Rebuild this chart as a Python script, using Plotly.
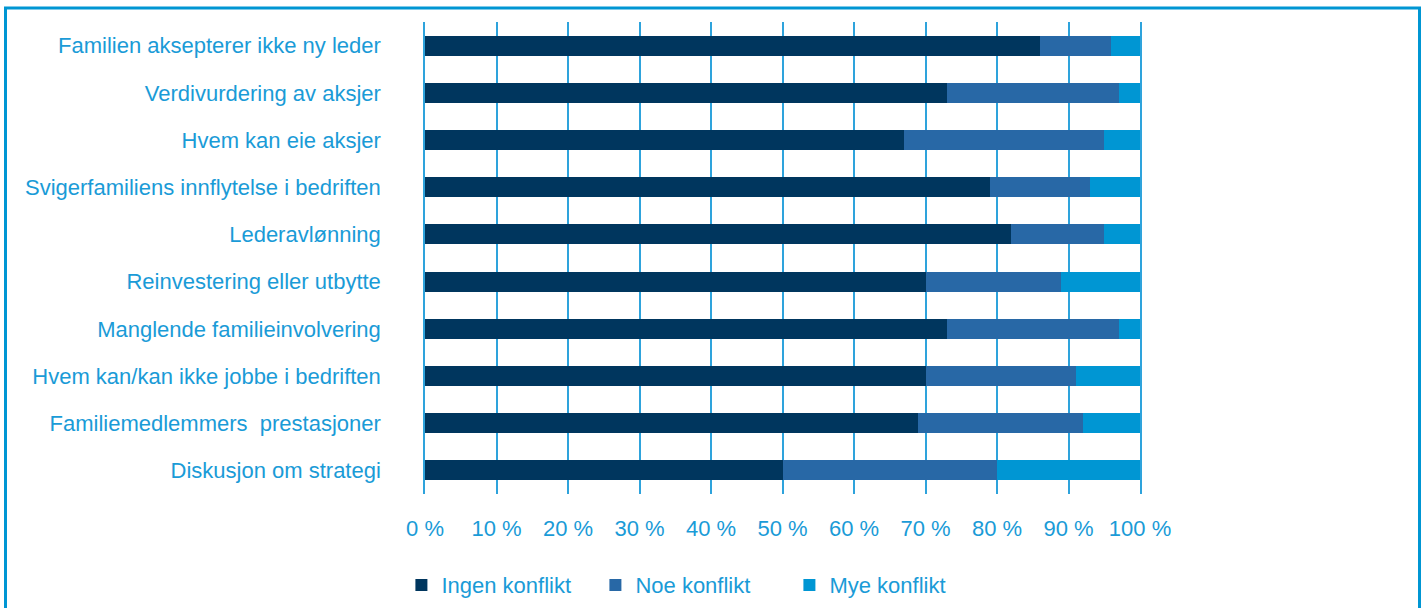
import plotly.graph_objects as go

categories = [
    "Familien aksepterer ikke ny leder",
    "Verdivurdering av aksjer",
    "Hvem kan eie aksjer",
    "Svigerfamiliens innflytelse i bedriften",
    "Lederavlønning",
    "Reinvestering eller utbytte",
    "Manglende familieinvolvering",
    "Hvem kan/kan ikke jobbe i bedriften",
    "Familiemedlemmers  prestasjoner",
    "Diskusjon om strategi",
]
ingen = [86, 73, 67, 79, 82, 70, 73, 70, 69, 50]
noe = [10, 24, 28, 14, 13, 19, 24, 21, 23, 30]
mye = [4, 3, 5, 7, 5, 11, 3, 9, 8, 20]
series_names = ["Ingen konflikt", "Noe konflikt", "Mye konflikt"]
tick_vals = [0, 10, 20, 30, 40, 50, 60, 70, 80, 90, 100]
tick_text = ["0 %", "10 %", "20 %", "30 %", "40 %", "50 %", "60 %", "70 %", "80 %", "90 %", "100 %"]

colors = ["#00365E", "#2868A6", "#0096D3"]
text_color = "#1A9BD7"
grid_color = "#2EA3DC"
FONT = "Liberation Sans, Arial, sans-serif"
FS = 22

fig = go.Figure()
for name, vals, col in zip(series_names, [ingen, noe, mye], colors):
    fig.add_trace(go.Bar(
        y=categories, x=vals, name=name, orientation="h",
        marker=dict(color=col, line=dict(width=0)),
        width=0.42,
    ))

L, R, T, B = 425, 1140, 22, 494
W, H = 1426, 608
fig.update_layout(
    width=W, height=H,
    barmode="stack",
    plot_bgcolor="white", paper_bgcolor="white",
    margin=dict(l=L, r=W - R, t=T, b=H - B, pad=0, autoexpand=False),
    font=dict(family=FONT, size=FS, color=text_color),
    showlegend=True,
    legend=dict(
        orientation="h", x=-0.033, xanchor="left", y=-0.193, yanchor="middle",
        font=dict(size=FS, color=text_color),
        entrywidth=149, entrywidthmode="pixels",
        traceorder="normal",
    ),
    xaxis=dict(
        range=[0, 100], tickvals=tick_vals, ticktext=tick_text,
        showgrid=True, gridcolor=grid_color, gridwidth=1.5,
        zeroline=False, showline=False, ticks="",
        ticklabelstandoff=19,
        tickfont=dict(size=FS, color=text_color),
        fixedrange=True,
    ),
    yaxis=dict(
        autorange="reversed", showgrid=False, zeroline=False,
        showline=True, linecolor=grid_color, linewidth=1.5, mirror=True,
        ticks="", ticklabelstandoff=38,
        tickfont=dict(size=FS, color=text_color),
    ),
)

def px_x(px):
    return (px - L) / (R - L)

def px_y(py):
    return (B - py) / (B - T)

fig.add_shape(
    type="rect", xref="paper", yref="paper",
    x0=px_x(5.5), x1=px_x(1419.5), y0=px_y(650), y1=px_y(8),
    line=dict(color="#0096D3", width=3), fillcolor="rgba(0,0,0,0)",
    layer="above",
)

fig.write_html(
    "out.html",
    config={"displayModeBar": False},
    post_script="document.body.style.margin='0px';",
)
